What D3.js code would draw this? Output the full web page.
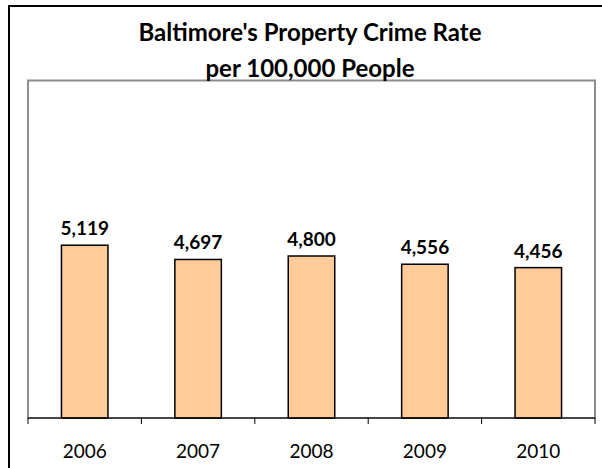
<!DOCTYPE html>
<html>
<head>
<meta charset="utf-8">
<script src="https://cdn.jsdelivr.net/npm/d3@7"></script>
<style>
  html, body { margin: 0; padding: 0; background: #fff; }
  svg { display: block; }
</style>
</head>
<body>
<svg id="chart" width="602" height="468"></svg>
<script>
// Baltimore property crime rate per 100,000 people
const years = ["2006", "2007", "2008", "2009", "2010"];
const rates = [5119, 4697, 4800, 4556, 4456];
const titleLines = ["Baltimore's Property Crime Rate", "per 100,000 People"];

const svg = d3.select("#chart");
const W = 602, H = 468;
const font = "Lato, 'Open Sans', sans-serif";

// chart frame (runs off the right and bottom edges)
svg.append("rect")
  .attr("x", 9).attr("y", 6)
  .attr("width", W + 10).attr("height", H + 10)
  .attr("fill", "#fff").attr("stroke", "#000").attr("stroke-width", 2);

const plot = { left: 28, right: 595, top: 80.5, bottom: 418 };

const x = d3.scaleBand()
  .domain(years)
  .range([plot.left, plot.right])
  .paddingInner(0.59)
  .paddingOuter(0.295);

const y = d3.scaleLinear()
  .domain([0, 10000])
  .range([plot.bottom, plot.top]);

// plot area border
svg.append("rect")
  .attr("x", plot.left).attr("y", plot.top)
  .attr("width", plot.right - plot.left)
  .attr("height", plot.bottom - plot.top)
  .attr("fill", "none").attr("stroke", "#8c8c8c").attr("stroke-width", 2);

// title
svg.append("g").selectAll("text")
  .data(titleLines)
  .join("text")
  .attr("x", 310)
  .attr("y", (d, i) => 41 + i * 36)
  .attr("text-anchor", "middle")
  .attr("font-family", font)
  .attr("font-weight", "bold")
  .attr("font-size", 24)
  .attr("fill", "#000")
  .text(d => d);

// bars
svg.append("g").selectAll("rect")
  .data(rates)
  .join("rect")
  .attr("x", (d, i) => x(years[i]))
  .attr("y", d => y(d))
  .attr("width", x.bandwidth())
  .attr("height", d => y(0) - y(d))
  .attr("fill", "#ffcc99")
  .attr("stroke", "#000")
  .attr("stroke-width", 1.5);

// value labels
svg.append("g").selectAll("text")
  .data(rates)
  .join("text")
  .attr("x", (d, i) => x(years[i]) + x.bandwidth() / 2)
  .attr("y", d => y(d) - 10)
  .attr("text-anchor", "middle")
  .attr("font-family", font)
  .attr("font-weight", "bold")
  .attr("font-size", 19)
  .attr("fill", "#000")
  .text(d => d3.format(",")(d));

// category axis with ticks between categories
const xEdge = d3.scaleLinear().domain([0, years.length]).range([plot.left, plot.right]);
const axis = svg.append("g");
axis.append("line")
  .attr("x1", plot.left).attr("x2", plot.right)
  .attr("y1", plot.bottom).attr("y2", plot.bottom)
  .attr("stroke", "#000").attr("stroke-width", 1);
axis.selectAll("line.tick")
  .data(d3.range(years.length + 1))
  .join("line")
  .attr("class", "tick")
  .attr("x1", d => xEdge(d)).attr("x2", d => xEdge(d))
  .attr("y1", plot.bottom).attr("y2", plot.bottom + 6)
  .attr("stroke", "#000").attr("stroke-width", 1);
axis.selectAll("text")
  .data(years)
  .join("text")
  .attr("x", d => x(d) + x.bandwidth() / 2)
  .attr("y", 458)
  .attr("text-anchor", "middle")
  .attr("font-family", font)
  .attr("font-size", 19)
  .attr("fill", "#000")
  .text(d => d);
</script>
</body>
</html>
